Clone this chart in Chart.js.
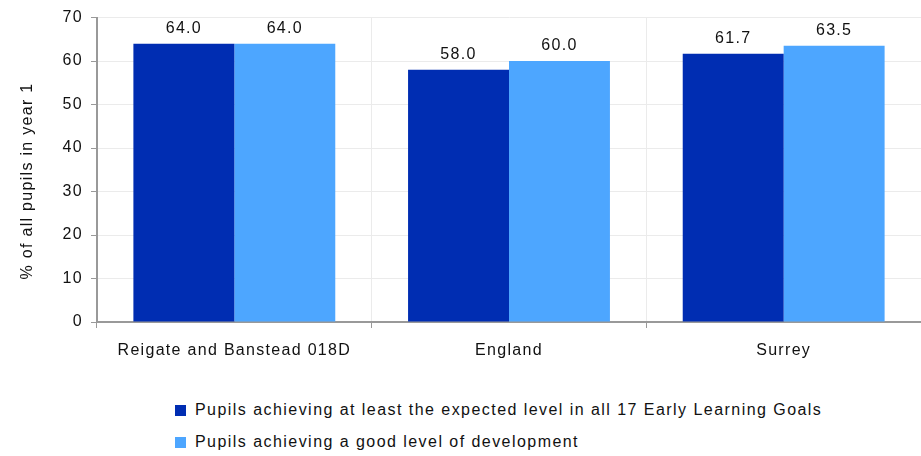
<!DOCTYPE html>
<html>
<head>
<meta charset="utf-8">
<script src="https://cdn.jsdelivr.net/npm/chart.js@4.4.0/dist/chart.umd.min.js"></script>
<style>
    body { margin: 0; background: #fff; font-family: "Liberation Sans", Arial, sans-serif; }
    #wrap { position: relative; width: 921px; height: 456px; }
    #legend { position: absolute; left: 175px; top: 394px; font-size: 16px; color: #111; letter-spacing: 1.45px; }
    .item { display: flex; align-items: center; height: 32px; }
    .box { width: 11px; height: 11px; margin-right: 9px; }
</style>
</head>
<body>
<div id="wrap">
    <canvas id="chart" width="921" height="380"></canvas>
    <div id="legend"></div>
</div>
<script>
// Data
const categories = ['Reigate and Banstead 018D', 'England', 'Surrey'];
const seriesNames = [
    'Pupils achieving at least the expected level in all 17 Early Learning Goals',
    'Pupils achieving a good level of development'
];
const expectedLevel = [64.0, 58.0, 61.7];
const goodLevel = [64.0, 60.0, 63.5];
const yTitle = '% of all pupils in year 1';
const colors = ['#002db2', '#4da6ff'];
const fontFamily = '"Liberation Sans", Arial, sans-serif';

// wider text spacing, like the original
const spacing = {
    id: 'spacing',
    beforeDraw(chart) {
        chart.ctx.letterSpacing = '1.3px';
    }
};

// value labels above bars + y axis title
const barLabels = {
    id: 'barLabels',
    afterDatasetsDraw(chart) {
        const ctx = chart.ctx;
        ctx.save();
        ctx.font = '16px ' + fontFamily;
        ctx.fillStyle = '#111';
        ctx.textAlign = 'center';
        ctx.textBaseline = 'bottom';
        chart.data.datasets.forEach((ds, i) => {
            chart.getDatasetMeta(i).data.forEach((bar, j) => {
                ctx.fillText(ds.data[j].toFixed(1), bar.x, bar.y - 7);
            });
        });
        ctx.translate(28, 181);
        ctx.rotate(-Math.PI / 2);
        ctx.textBaseline = 'middle';
        ctx.fillText(yTitle, 0, 0);
        ctx.restore();
    }
};

new Chart(document.getElementById('chart'), {
    type: 'bar',
    data: {
        labels: categories,
        datasets: [
            { label: seriesNames[0], data: expectedLevel, backgroundColor: colors[0] },
            { label: seriesNames[1], data: goodLevel, backgroundColor: colors[1] }
        ]
    },
    options: {
        responsive: false,
        animation: false,
        layout: { padding: { top: 15, right: 0, left: 0, bottom: 0 } },
        datasets: { bar: { categoryPercentage: 0.735, barPercentage: 1.0 } },
        plugins: { legend: { display: false }, tooltip: { enabled: false } },
        scales: {
            x: {
                grid: { color: '#ebebeb', tickColor: '#999', tickLength: 6, offset: true },
                border: { color: '#999', width: 2 },
                ticks: { color: '#111', font: { size: 16, family: fontFamily }, padding: 13 },
                afterFit(scale) { scale.height = 58; }
            },
            y: {
                min: 0,
                max: 70,
                ticks: { stepSize: 10, color: '#111', font: { size: 16, family: fontFamily }, padding: 8 },
                grid: { color: '#ebebeb', tickColor: '#999', tickLength: 6 },
                border: { color: '#999', width: 2 },
                afterFit(scale) { scale.width = 97; }
            }
        }
    },
    plugins: [spacing, barLabels]
});

// legend
const legend = document.getElementById('legend');
seriesNames.forEach((name, i) => {
    const item = document.createElement('div');
    item.className = 'item';
    const box = document.createElement('span');
    box.className = 'box';
    box.style.background = colors[i];
    item.appendChild(box);
    item.appendChild(document.createTextNode(name));
    legend.appendChild(item);
});
</script>
</body>
</html>
